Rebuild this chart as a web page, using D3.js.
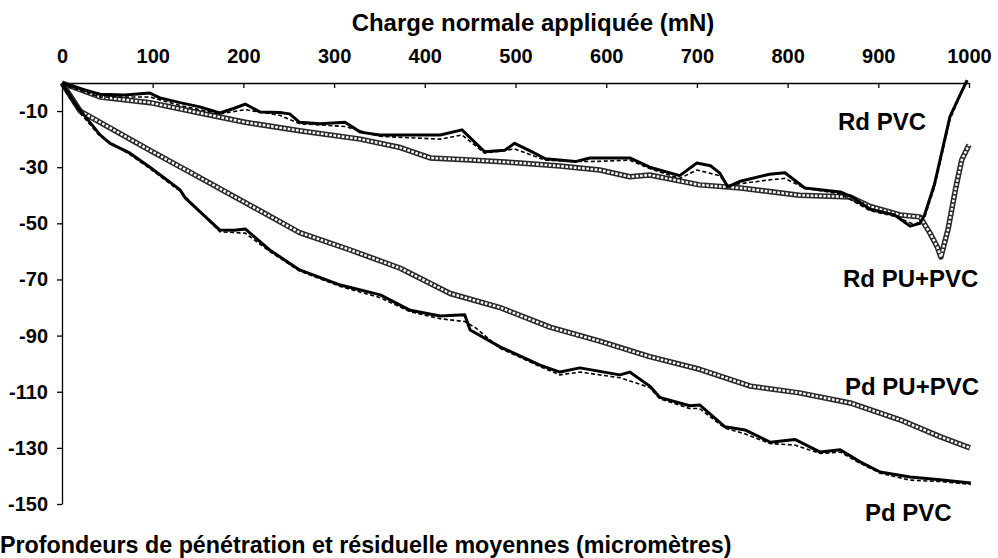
<!DOCTYPE html>
<html><head><meta charset="utf-8">
<script src="https://cdn.jsdelivr.net/npm/d3@7"></script>
<style>
body{margin:0;background:#fff;}
text{font-family:"Liberation Sans",Arial,sans-serif;font-weight:bold;fill:#000;}
</style></head>
<body>
<svg id="c" width="998" height="558"></svg>
<script>
// ---- data (x: charge normale mN, y: profondeur µm) ----
const xTicks = [0,100,200,300,400,500,600,700,800,900,1000];
const yTicks = [-10,-30,-50,-70,-90,-110,-130,-150];

const rdPVC = [[0,0],[20,-2],[42,-4],[69,-4.3],[97,-3.6],[108,-5.3],[130,-7],[152,-8.5],[174,-10.7],[190,-9],[202,-7.5],[218,-10.3],[240,-10.5],[251,-11],[262,-14],[285,-14.5],[312,-14],[329,-17.5],[350,-18.5],[380,-18.5],[417,-18.5],[441,-16.7],[466,-24.5],[488,-24],[499,-21.5],[515,-24],[533,-27],[566,-28],[582,-26.7],[626,-26.7],[648,-30],[681,-33],[700,-28.5],[715,-29.5],[725,-32],[734,-37],[748,-35],[780,-32.5],[797,-32],[819,-37.4],[858,-38.8],[871,-40.6],[891,-45],[918,-47],[935,-51],[946,-50],[951,-47],[962,-36],[979,-12],[992,-3],[998,1]];
const rdPVCb = [[0,-0.5],[42,-5],[97,-5],[130,-8],[174,-11],[202,-9.5],[240,-11.5],[262,-14.5],[312,-15.5],[350,-19],[417,-20],[441,-18.5],[466,-25],[499,-23.5],[533,-27.5],[582,-28],[626,-27.5],[648,-30.5],[681,-34],[700,-31],[725,-33],[734,-36.5],[780,-34.5],[797,-34],[819,-37.5],[858,-39.5],[891,-45.5],[918,-47.5],[940,-50.5],[951,-48],[962,-37],[979,-13],[996,0]];
const rdPUPVC = [[0,0],[42,-5],[97,-7],[152,-10.7],[202,-14],[262,-17],[329,-20],[373,-23],[406,-26.7],[450,-27.4],[505,-28.5],[549,-29.6],[593,-31],[626,-33.4],[648,-32.8],[703,-36.3],[748,-37.4],[813,-40],[869,-40.6],[891,-44],[924,-47],[946,-47.7],[957,-53.5],[965,-58.4],[969,-62],[977,-52],[985,-38],[992,-27.4],[1000,-22]];
const pdPUPVC = [[0,0],[20,-10],[42,-14],[97,-24],[152,-33.7],[207,-43.5],[262,-53.3],[318,-59.5],[373,-66],[428,-75],[483,-80],[538,-87],[593,-92],[648,-97.5],[703,-102],[759,-108],[813,-110.4],[869,-114],[924,-120],[968,-126],[1001,-130]];
const pdPVC = [[0,0],[17,-8.5],[42,-18.5],[53,-21.5],[75,-25],[97,-30],[130,-38],[136,-41],[174,-52.4],[190,-52.5],[202,-52],[229,-59.5],[262,-66.6],[307,-72],[351,-75.5],[384,-81],[417,-83],[444,-82.6],[450,-88],[483,-94],[527,-100.5],[549,-103],[571,-101.5],[615,-104],[626,-103],[648,-108],[659,-112],[692,-115],[703,-114.7],[731,-122.5],[753,-123.6],[781,-128],[808,-127],[836,-131.5],[858,-130.7],[880,-135],[902,-138.6],[935,-140.4],[968,-141.4],[1002,-142.5]];
const pdPVCb = [[0,-1],[20,-10.7],[42,-19],[75,-25.5],[97,-30.5],[130,-38.5],[174,-53],[202,-53.5],[229,-60],[262,-67],[307,-72.5],[351,-76.5],[384,-81.5],[417,-84],[444,-85],[455,-87],[483,-94.5],[527,-101],[549,-104],[571,-103],[615,-105],[648,-108.5],[659,-112.5],[692,-116],[703,-116],[731,-123],[753,-125],[781,-128.5],[808,-129],[836,-132],[858,-131.5],[880,-135.5],[902,-139],[935,-141.5],[968,-142],[1002,-143]];

const labels = [
  {text:"Rd PVC", x:838, y:130},
  {text:"Rd PU+PVC", x:843, y:287},
  {text:"Pd PU+PVC", x:845, y:395},
  {text:"Pd PVC", x:865, y:521}
];

// ---- chart ----
const svg = d3.select("#c");
const x = d3.scaleLinear().domain([0,1000]).range([62,969]);
const y = d3.scaleLinear().domain([0,-150]).range([83,504]);
const fmt = d => String(d);

const xAxis = d3.axisTop(x).tickValues(xTicks).tickFormat(fmt).tickSizeInner(-5).tickSizeOuter(0).tickPadding(20);
const gx = svg.append("g").attr("transform",`translate(0,${y(0)})`).call(xAxis);
gx.selectAll("text").style("font-size","20px");
gx.selectAll(".tick").filter(d=>d===0).select("line").remove();

const yAxis = d3.axisLeft(y).tickValues(yTicks).tickFormat(fmt).tickSizeInner(5).tickSizeOuter(0).tickPadding(9);
const gy = svg.append("g").attr("transform",`translate(${x(0)},0)`).call(yAxis);
gy.selectAll("text").style("font-size","20px");
svg.selectAll(".domain, .tick line").attr("stroke","#000").attr("stroke-width",1.3);

const line = d3.line().x(d=>x(d[0])).y(d=>y(d[1])).curve(d3.curveLinear);

function squares(data){
  svg.append("path").attr("d",line(data)).attr("fill","none")
     .attr("stroke","#2a2a2a").attr("stroke-width",5.5).attr("stroke-linejoin","round");
  svg.append("path").attr("d",line(data)).attr("fill","none")
     .attr("stroke","#fff").attr("stroke-width",2.4).attr("stroke-dasharray","2.6,1.6");
}
squares(rdPUPVC);
squares(pdPUPVC);

function solid(main, alt){
  svg.append("path").attr("d",line(alt)).attr("fill","none")
     .attr("stroke","#000").attr("stroke-width",1.6).attr("stroke-dasharray","4,2.5");
  svg.append("path").attr("d",line(main)).attr("fill","none")
     .attr("stroke","#000").attr("stroke-width",3).attr("stroke-linejoin","round");
}
solid(rdPVC, rdPVCb);
solid(pdPVC, pdPVCb);

svg.selectAll(".lbl").data(labels).join("text").attr("class","lbl")
  .attr("x",d=>d.x).attr("y",d=>d.y).style("font-size","24px").text(d=>d.text);

svg.append("text").attr("x",533).attr("y",31).attr("text-anchor","middle")
  .style("font-size","24px").text("Charge normale appliquée (mN)");
svg.append("text").attr("x",0).attr("y",553)
  .style("font-size","23.3px").text("Profondeurs de pénétration et résiduelle moyennes (micromètres)");
</script>
</body></html>
